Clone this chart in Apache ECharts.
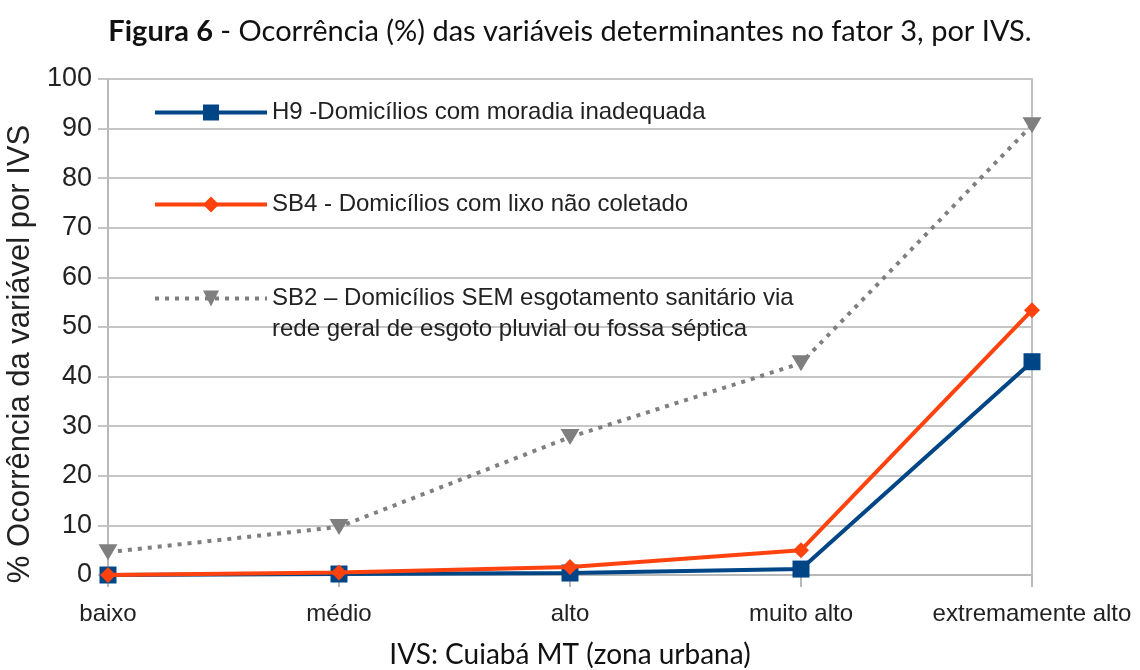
<!DOCTYPE html>
<html>
<head>
<meta charset="utf-8">
<script src="https://cdn.jsdelivr.net/npm/echarts@6/dist/echarts.min.js"></script>
<style>
	html, body { margin: 0; padding: 0; background: #fff; }
	#chart { width: 1140px; height: 670px; }
</style>
</head>
<body>
<div id="chart"></div>
<script>
var categories = ['baixo', 'médio', 'alto', 'muito alto', 'extremamente alto'];
var h9Values = [0, 0.2, 0.4, 1.2, 43];   // H9 - moradia inadequada
var sb4Values = [0, 0.5, 1.6, 5, 53.4];  // SB4 - lixo não coletado
var sb2Values = [4.6, 9.7, 27.8, 42.7, 90.7]; // SB2 - sem esgotamento
var yTicks = [0, 10, 20, 30, 40, 50, 60, 70, 80, 90, 100];
var seriesNames = [
	'H9 -Domicílios com moradia inadequada',
	'SB4 - Domicílios com lixo não coletado',
	'SB2 – Domicílios SEM esgotamento sanitário via\nrede geral de esgoto pluvial ou fossa séptica'
];

var chart = echarts.init(document.getElementById('chart'));
var textFont = '"Liberation Sans", Arial, sans-serif';
var gridColor = '#c6c6c6';

/*图例，每个单独放*/
function makeLegend(name, top, lineW) {
	return {
		data: [name],
		left: 148,
		top: top,
		orient: 'vertical',
		itemWidth: 112,
		itemHeight: 20,
		itemGap: 5,
		selectedMode: false,
		lineStyle: { width: lineW },
		textStyle: {
			fontFamily: textFont,
			fontSize: 24,
			color: '#222',
			lineHeight: 31
		}
	};
}

var option = {
	backgroundColor: '#fff',
	animation: false,
	title: {
		text: '{b|Figura 6} - Ocorrência (%) das variáveis determinantes no fator 3, por IVS.',
		left: 'center',
		top: 12,
		textStyle: {
			fontFamily: 'Lato, sans-serif',
			fontSize: 29,
			fontWeight: 'normal',
			color: '#111',
			rich: {
				b: {
					fontFamily: 'Lato, sans-serif',
					fontSize: 29,
					fontWeight: 'bold',
					color: '#111'
				}
			}
		}
	},
	legend: [
		makeLegend(seriesNames[0], 92, 4),
		makeLegend(seriesNames[1], 184, 4),
		makeLegend('\n' + seriesNames[2], 247, 4)
	],
	grid: {
		left: 108,
		right: 108,
		top: 79,
		bottom: 95,
		containLabel: false,
		outerBoundsMode: 'none'
	},
	xAxis: {
		type: 'category',
		data: categories,
		boundaryGap: false,
		name: 'IVS: Cuiabá MT (zona urbana)',
		nameLocation: 'middle',
		nameGap: 66,
		nameTextStyle: {
			fontFamily: 'Lato, sans-serif',
			fontSize: 28,
			color: '#111'
		},
		axisLine: { lineStyle: { color: '#b8b8b8', width: 2 } },
		axisTick: { show: true, length: 12, lineStyle: { color: '#b8b8b8', width: 2 } },
		axisLabel: {
			interval: 0,
			margin: 27,
			fontFamily: textFont,
			fontSize: 24,
			color: '#222'
		},
		splitLine: { show: false }
	},
	yAxis: [{
		type: 'value',
		min: yTicks[0],
		max: yTicks[yTicks.length - 1],
		interval: 10,
		name: '% Ocorrência da variável por IVS',
		nameLocation: 'middle',
		nameGap: 72,
		nameTextStyle: {
			fontFamily: textFont,
			fontSize: 31,
			color: '#222',
			padding: [0, 54, 0, 0]
		},
		axisLine: { show: true, lineStyle: { color: '#b8b8b8', width: 2 } },
		axisTick: { show: true, length: 10, lineStyle: { color: gridColor, width: 2 } },
		axisLabel: {
			margin: 16,
			fontFamily: textFont,
			fontSize: 27,
			color: '#222'
		},
		splitLine: { show: true, lineStyle: { color: gridColor, width: 2 } }
	}, {
		/*右边框*/
		type: 'value',
		position: 'right',
		min: 0,
		max: 100,
		interval: 10,
		axisLine: { show: true, lineStyle: { color: '#c0c0c0', width: 2 } },
		axisTick: { show: false },
		axisLabel: { show: false },
		splitLine: { show: false }
	}],
	series: [{
		name: '\n' + seriesNames[2],
		type: 'line',
		data: sb2Values,
		symbol: 'triangle',
		symbolRotate: 180,
		symbolSize: [19, 16],
		z: 2,
		itemStyle: { color: '#7f7f7f' },
		lineStyle: { color: '#7f7f7f', width: 4, type: [4, 6] }
	}, {
		name: seriesNames[0],
		type: 'line',
		data: h9Values,
		symbol: 'rect',
		symbolSize: 17,
		z: 3,
		itemStyle: { color: '#004586' },
		lineStyle: { color: '#004586', width: 4 }
	}, {
		name: seriesNames[1],
		type: 'line',
		data: sb4Values,
		symbol: 'diamond',
		symbolSize: 16,
		z: 4,
		itemStyle: { color: '#ff420e' },
		lineStyle: { color: '#ff420e', width: 4 }
	}]
};

chart.setOption(option);
</script>
</body>
</html>
